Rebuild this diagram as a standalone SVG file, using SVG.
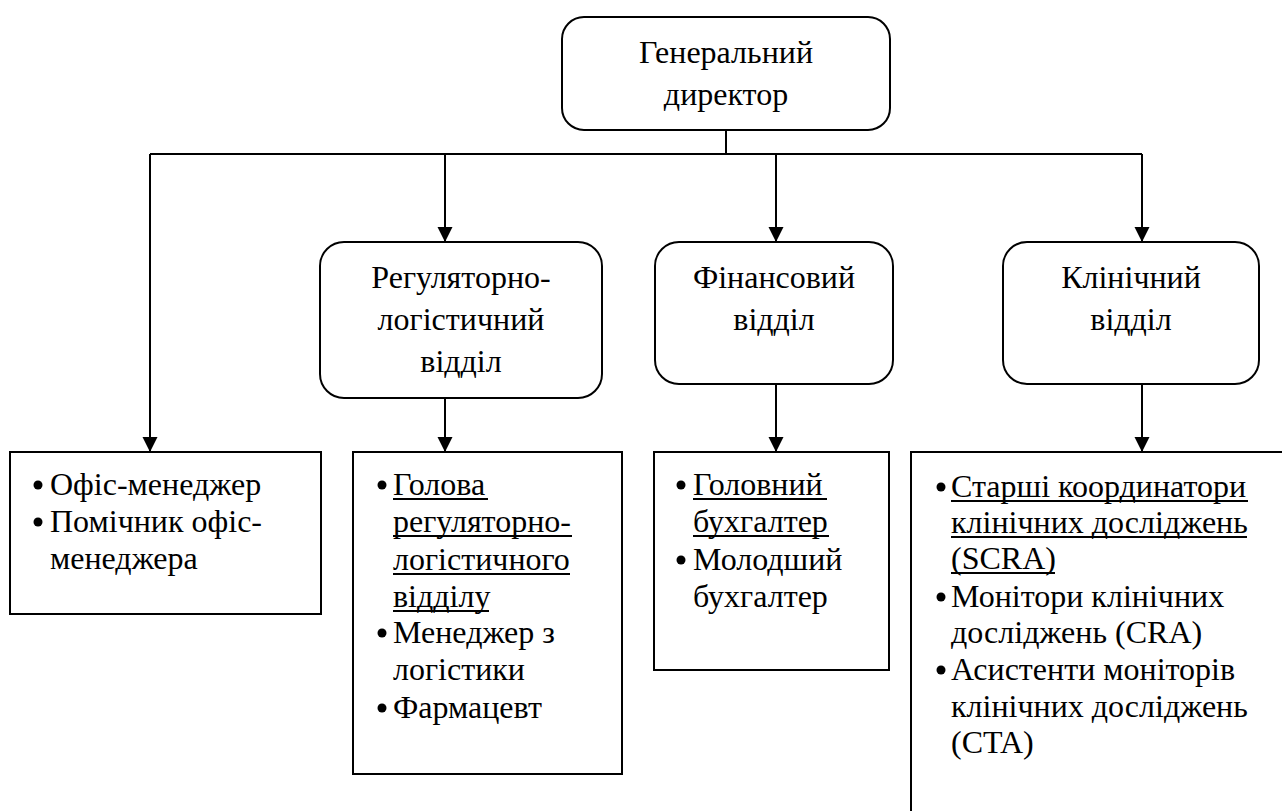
<svg xmlns="http://www.w3.org/2000/svg" width="1282" height="811" viewBox="0 0 1282 811">
<defs>
<marker id="arr" markerUnits="userSpaceOnUse" markerWidth="16" markerHeight="16" refX="15" refY="7.5" orient="auto">
<path d="M0,0 L15,7.5 L0,15 z" fill="#000"/>
</marker>
<style>
.box{fill:#fff;stroke:#000;stroke-width:2}
.t{font-size:32px;fill:#000}
.c{text-anchor:middle}
.ul{stroke:#000;stroke-width:2}
.ln{fill:none;stroke:#000;stroke-width:2}
.b{fill:#000}
</style>
</defs>
<rect width="1282" height="811" fill="#fff"/>
<g id="connectors">
<path class="ln" d="M726,130 V154 M150,154 H1142"/>
<path class="ln" d="M150,154 V452" marker-end="url(#arr)"/>
<path class="ln" d="M445,154 V242" marker-end="url(#arr)"/>
<path class="ln" d="M776,154 V242" marker-end="url(#arr)"/>
<path class="ln" d="M1142,154 V242" marker-end="url(#arr)"/>
<path class="ln" d="M445,398 V452" marker-end="url(#arr)"/>
<path class="ln" d="M776,384 V452" marker-end="url(#arr)"/>
<path class="ln" d="M1142,384 V452" marker-end="url(#arr)"/>
</g>
<g id="director">
<rect class="box" x="562" y="17" width="328" height="113" rx="22"/>
<text class="t c" x="726" y="63" font-family="Liberation Serif" style="font-family:'Liberation Serif'">Генеральний</text>
<text class="t c" x="726" y="105" font-family="Liberation Serif" style="font-family:'Liberation Serif'">директор</text>
</g>
<g id="regulatory">
<rect class="box" x="320" y="242" width="282" height="156" rx="24"/>
<text class="t c" x="461" y="288" font-family="Liberation Serif" style="font-family:'Liberation Serif'">Регуляторно-</text>
<text class="t c" x="461" y="330" font-family="Liberation Serif" style="font-family:'Liberation Serif'">логістичний</text>
<text class="t c" x="461" y="372" font-family="Liberation Serif" style="font-family:'Liberation Serif'">відділ</text>
</g>
<g id="financial">
<rect class="box" x="655" y="242" width="238" height="142" rx="24"/>
<text class="t c" x="774" y="288" font-family="Liberation Serif" style="font-family:'Liberation Serif'">Фінансовий</text>
<text class="t c" x="774" y="330" font-family="Liberation Serif" style="font-family:'Liberation Serif'">відділ</text>
</g>
<g id="clinical">
<rect class="box" x="1003" y="242" width="256" height="142" rx="24"/>
<text class="t c" x="1131" y="288" font-family="Liberation Serif" style="font-family:'Liberation Serif'">Клінічний</text>
<text class="t c" x="1131" y="330" font-family="Liberation Serif" style="font-family:'Liberation Serif'">відділ</text>
</g>
<g id="office-staff">
<rect class="box" x="10" y="452" width="311" height="162"/>
<circle class="b" cx="38" cy="485" r="4.5"/>
<text class="t" x="50" y="495" font-family="Liberation Serif" style="font-family:'Liberation Serif'">Офіс-менеджер</text>
<circle class="b" cx="38" cy="522" r="4.5"/>
<text class="t" x="50" y="532" font-family="Liberation Serif" style="font-family:'Liberation Serif'">Помічник офіс-</text>
<text class="t" x="50" y="569" font-family="Liberation Serif" style="font-family:'Liberation Serif'">менеджера</text>
</g>
<g id="regulatory-staff">
<rect class="box" x="353" y="452" width="269" height="322"/>
<circle class="b" cx="382" cy="485" r="4.5"/>
<text class="t" x="393" y="495" font-family="Liberation Serif" style="font-family:'Liberation Serif'">Голова</text>
<text class="t" x="393" y="532" font-family="Liberation Serif" style="font-family:'Liberation Serif'">регуляторно-</text>
<text class="t" x="393" y="570" font-family="Liberation Serif" style="font-family:'Liberation Serif'">логістичного</text>
<text class="t" x="393" y="607" font-family="Liberation Serif" style="font-family:'Liberation Serif'">відділу</text>
<path class="ul" d="M393,499 H488 M393,536 H572 M393,574 H570 M393,611 H489"/>
<circle class="b" cx="382" cy="633" r="4.5"/>
<text class="t" x="393" y="643" font-family="Liberation Serif" style="font-family:'Liberation Serif'">Менеджер з</text>
<text class="t" x="393" y="680" font-family="Liberation Serif" style="font-family:'Liberation Serif'">логістики</text>
<circle class="b" cx="382" cy="708" r="4.5"/>
<text class="t" x="393" y="718" font-family="Liberation Serif" style="font-family:'Liberation Serif'">Фармацевт</text>
</g>
<g id="financial-staff">
<rect class="box" x="654" y="452" width="235" height="218"/>
<circle class="b" cx="681" cy="485" r="4.5"/>
<text class="t" x="693" y="495" font-family="Liberation Serif" style="font-family:'Liberation Serif'">Головний</text>
<text class="t" x="693" y="532" font-family="Liberation Serif" style="font-family:'Liberation Serif'">бухгалтер</text>
<path class="ul" d="M693,499 H827 M693,536 H829"/>
<circle class="b" cx="681" cy="560" r="4.5"/>
<text class="t" x="693" y="570" font-family="Liberation Serif" style="font-family:'Liberation Serif'">Молодший</text>
<text class="t" x="693" y="607" font-family="Liberation Serif" style="font-family:'Liberation Serif'">бухгалтер</text>
</g>
<g id="clinical-staff">
<rect class="box" x="911" y="452" width="400" height="400"/>
<circle class="b" cx="941" cy="487" r="4.5"/>
<text class="t" x="951" y="497" font-family="Liberation Serif" style="font-family:'Liberation Serif'">Старші координатори</text>
<text class="t" x="951" y="533" font-family="Liberation Serif" style="font-family:'Liberation Serif'">клінічних досліджень</text>
<text class="t" x="951" y="569" font-family="Liberation Serif" style="font-family:'Liberation Serif'">(SCRA)</text>
<path class="ul" d="M951,501 H1248 M951,537 H1247 M951,573 H1055"/>
<circle class="b" cx="941" cy="597" r="4.5"/>
<text class="t" x="951" y="607" font-family="Liberation Serif" style="font-family:'Liberation Serif'">Монітори клінічних</text>
<text class="t" x="951" y="643" font-family="Liberation Serif" style="font-family:'Liberation Serif'">досліджень (CRA)</text>
<circle class="b" cx="941" cy="670" r="4.5"/>
<text class="t" x="951" y="680" font-family="Liberation Serif" style="font-family:'Liberation Serif'">Асистенти моніторів</text>
<text class="t" x="951" y="717" font-family="Liberation Serif" style="font-family:'Liberation Serif'">клінічних досліджень</text>
<text class="t" x="951" y="753" font-family="Liberation Serif" style="font-family:'Liberation Serif'">(CTA)</text>
</g>
</svg>
